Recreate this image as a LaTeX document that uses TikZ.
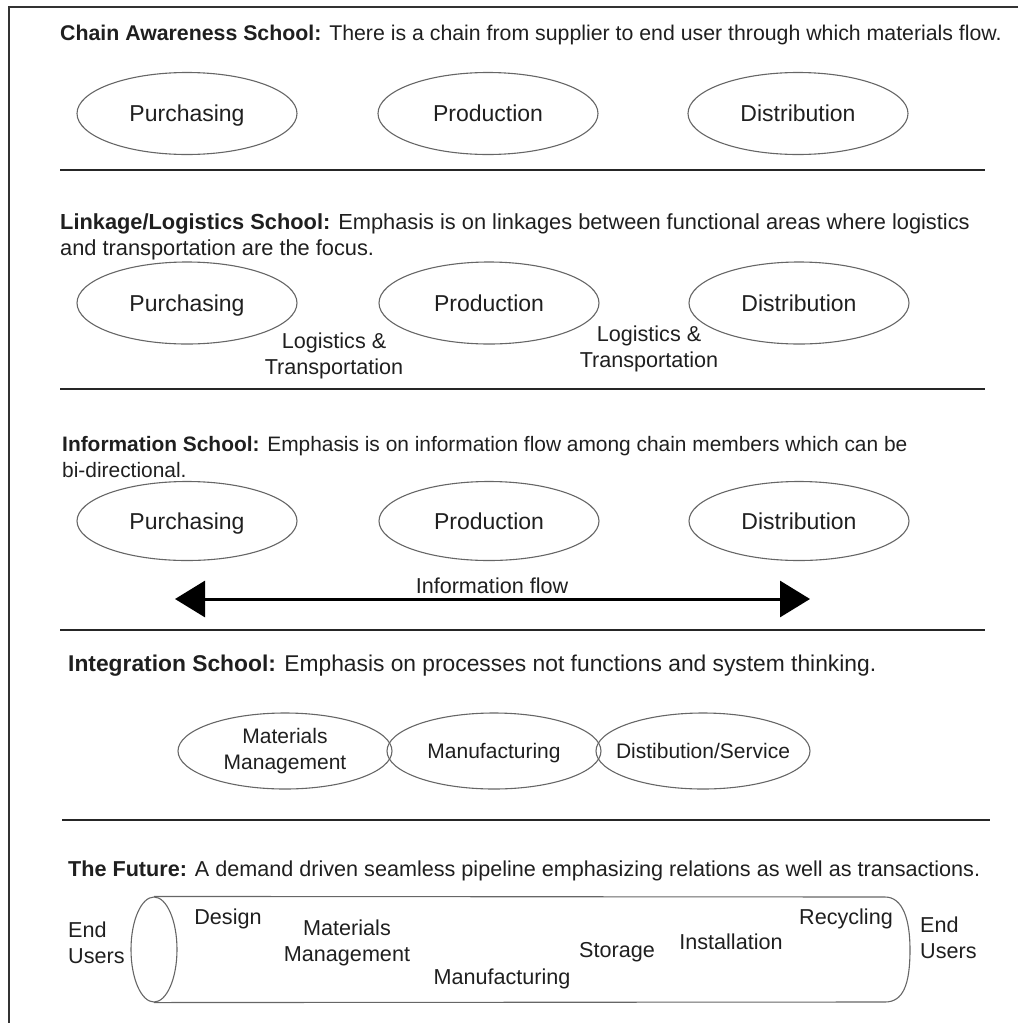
\documentclass[tikz,border=0pt]{standalone}
\usepackage{fontspec}
\setmainfont{Liberation Sans}
\usetikzlibrary{arrows.meta,shapes.geometric}
\begin{document}
\begin{tikzpicture}[x=1pt,y=-1pt,
  txt/.style={font=\fontsize{21.6}{26}\selectfont, text=black!88, inner sep=0pt},
  big/.style={font=\fontsize{23}{27}\selectfont, text=black!88, inner sep=0pt, text height=16pt, text depth=0pt},
  one/.style={txt, text height=15pt, text depth=0pt},
  title/.style={txt, anchor=west, align=left},
  oval/.style={ellipse, draw=black!60, line width=1.1pt, minimum width=220pt, minimum height=82pt, inner sep=0pt},
  ioval/.style={ellipse, draw=black!60, line width=1.1pt, minimum width=214pt, minimum height=76pt, inner sep=0pt},
  sep/.style={draw=black!85, line width=2pt},
  frame/.style={draw=black!80, line width=1.6pt},
  flow/.style={draw=black, line width=3pt, {Triangle[length=30pt,width=36pt]}-{Triangle[length=30pt,width=36pt]}},
  lbl/.style={txt, align=center}
]
\useasboundingbox (0,0) rectangle (1018,1023);
% frame
\coordinate (fTR) at (1018,7);
\coordinate (fTL) at (9,7);
\coordinate (fBL) at (9,1023);
\draw[frame] (fTR) -- (fTL) -- (fBL);

% ---------- Section 1
\node[title, font=\fontsize{21.3}{26}\selectfont] (t1) at (60,35) {\textbf{Chain Awareness School:} There is a chain from supplier to end user through which materials flow.};
\node[oval] (p1) at (187,113.5) {};
\node[big] (p1t) at (p1) {Purchasing};
\node[oval] (r1) at (488,113.5) {};
\node[big] (r1t) at (r1) {Production};
\node[oval] (d1) at (798,113.5) {};
\node[big] (d1t) at (d1) {Distribution};
\coordinate (s1a) at (60,170); \coordinate (s1b) at (985,170);
\draw[sep] (s1a) -- (s1b);

% ---------- Section 2
\node[title, font=\fontsize{21.8}{26}\selectfont] (t2) at (60,237) {\textbf{Linkage/Logistics School:} Emphasis is on linkages between functional areas where logistics\\and transportation are the focus.};
\node[oval] (p2) at (187,303) {};
\node[big] (p2t) at (p2) {Purchasing};
\node[oval] (r2) at (489,303) {};
\node[big] (r2t) at (r2) {Production};
\node[oval] (d2) at (799,303) {};
\node[big] (d2t) at (d2) {Distribution};
\node[lbl] (l2a) at (334,356) {Logistics \&\\Transportation};
\node[lbl] (l2b) at (649,349) {Logistics \&\\Transportation};
\coordinate (s2a) at (60,389); \coordinate (s2b) at (985,389);
\draw[sep] (s2a) -- (s2b);

% ---------- Section 3
\node[title, font=\fontsize{20.9}{26}\selectfont] (t3) at (62,457) {\textbf{Information School:} Emphasis is on information flow among chain members which can be\\bi-directional.};
\node[oval, minimum height=79pt] (p3) at (187,521) {};
\node[big] (p3t) at (p3) {Purchasing};
\node[oval, minimum height=79pt] (r3) at (489,521) {};
\node[big] (r3t) at (r3) {Production};
\node[oval, minimum height=79pt] (d3) at (799,521) {};
\node[big] (d3t) at (d3) {Distribution};
\coordinate (aL) at (175,599);
\coordinate (aR) at (810,599);
\draw[flow] (aL) -- (aR);
\node[one] (ift) at (492,586) {Information flow};
\coordinate (s3a) at (60,630); \coordinate (s3b) at (985,630);
\draw[sep] (s3a) -- (s3b);

% ---------- Section 4
\node[title, font=\fontsize{22.8}{27}\selectfont] (t4) at (68,666) {\textbf{Integration School:} Emphasis on processes not functions and system thinking.};
\node[ioval] (m4) at (285,751) {};
\node[lbl, font=\fontsize{21}{26}\selectfont] (m4t) at (m4) {Materials\\Management};
\node[ioval] (f4) at (494,751) {};
\node[one, font=\fontsize{21}{26}\selectfont] (f4t) at (f4) {Manufacturing};
\node[ioval] (d4) at (703,751) {};
\node[one, font=\fontsize{21}{26}\selectfont] (d4t) at (d4) {Distibution/Service};
\coordinate (s4a) at (62,820); \coordinate (s4b) at (990,820);
\draw[sep] (s4a) -- (s4b);

% ---------- Section 5
\node[title] (t5) at (68,871) {\textbf{The Future:} A demand driven seamless pipeline emphasizing relations as well as transactions.};
\node[ellipse, draw=black!60, line width=1.1pt, minimum width=46pt, minimum height=105pt, inner sep=0pt] (tubeL) at (154,949.5) {};
\coordinate (tTR) at (885,897);
\coordinate (tBR) at (885,1002);
\draw[draw=black!60, line width=1.1pt] (tubeL.north) -- (tTR)
   .. controls (903,897) and (910,920) .. (910,949.5)
   .. controls (910,985) and (903,1002) .. (tBR) -- (tubeL.south);
\node[txt, align=left, anchor=west] (eu1) at (68,943) {End\\Users};
\node[txt, align=left, anchor=west] (eu2) at (920,938) {End\\Users};
\node[one] (c1) at (228,917) {Design};
\node[lbl] (c2) at (347,943) {Materials\\Management};
\node[one] (c3) at (502,977) {Manufacturing};
\node[one] (c4) at (617,950) {Storage};
\node[one] (c5) at (731,942) {Installation};
\node[one] (c6) at (846,917) {Recycling};
\end{tikzpicture}
\end{document}
